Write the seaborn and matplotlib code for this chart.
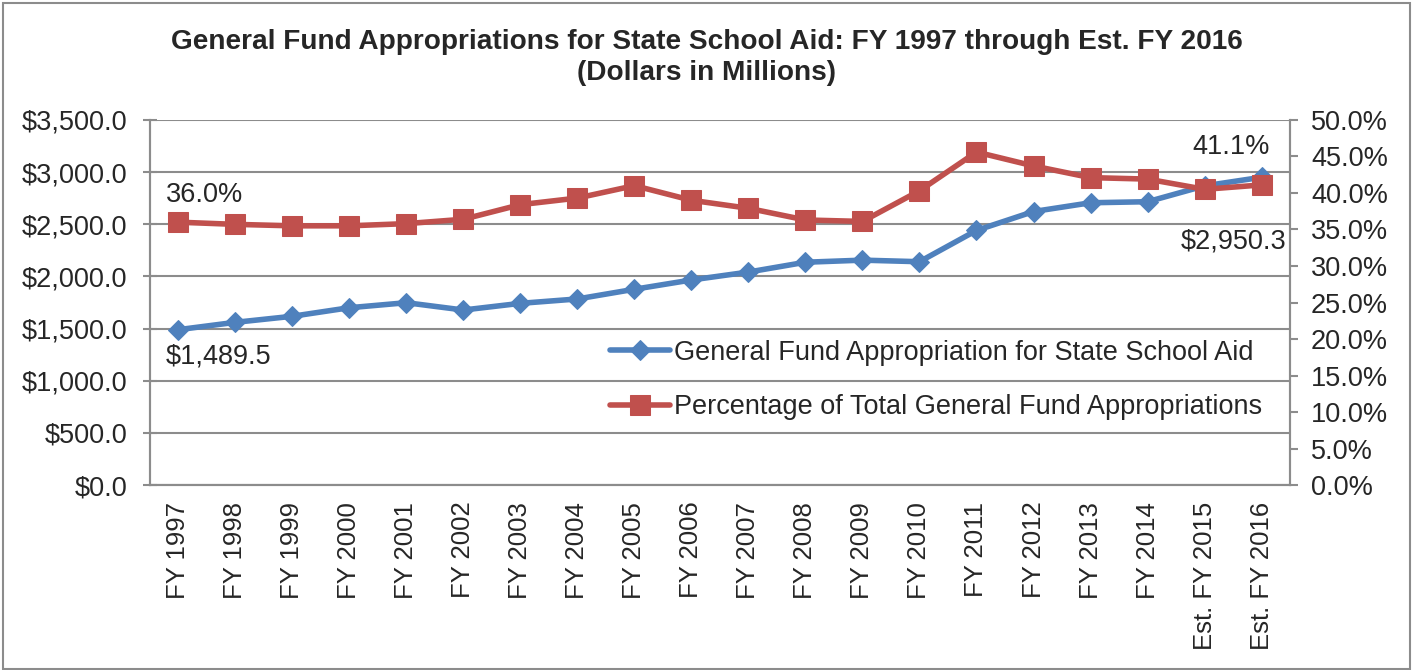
import matplotlib
matplotlib.use("Agg")
import matplotlib.pyplot as plt
from matplotlib.patches import Rectangle
from matplotlib.ticker import FuncFormatter, FixedLocator
import pandas as pd
import seaborn as sns

YEARS = ["FY 1997", "FY 1998", "FY 1999", "FY 2000", "FY 2001", "FY 2002", "FY 2003",
         "FY 2004", "FY 2005", "FY 2006", "FY 2007", "FY 2008", "FY 2009", "FY 2010",
         "FY 2011", "FY 2012", "FY 2013", "FY 2014", "Est. FY 2015", "Est. FY 2016"]
SCHOOL_AID = [1489.5, 1560, 1618, 1700, 1748, 1678, 1742, 1784, 1877, 1966, 2042,
              2136, 2156, 2141, 2441, 2622, 2706, 2716, 2868, 2950.3]
PCT_OF_TOTAL = [36.0, 35.7, 35.5, 35.5, 35.8, 36.4, 38.4, 39.3, 41.0, 39.0, 37.9,
                36.3, 36.1, 40.3, 45.6, 43.7, 42.1, 41.9, 40.5, 41.1]

BLUE = "#4F81BD"
RED = "#C0504D"
GRID = "#8C8C8C"
FS = 19.5

sns.set_style("white")
plt.rcParams["font.family"] = ["Liberation Sans", "DejaVu Sans"]

df = pd.DataFrame({"pos": range(len(YEARS)), "year": YEARS,
                   "aid": SCHOOL_AID, "pct": PCT_OF_TOTAL})

fig = plt.figure(figsize=(14.13, 6.70), dpi=100)
fig.patches.append(Rectangle((0.002, 0.002), 0.996, 0.993, transform=fig.transFigure,
                             fill=False, edgecolor="#8C8C8C", lw=1.5))
ax = fig.add_axes([0.106, 0.276, 0.807, 0.545])
ax2 = ax.twinx()

sns.lineplot(data=df, x="pos", y="aid", ax=ax, color=BLUE, lw=4, marker="D", markersize=10,
             markeredgecolor=BLUE, label="General Fund Appropriation for State School Aid",
             legend=False)
sns.lineplot(data=df, x="pos", y="pct", ax=ax2, color=RED, lw=4, marker="s", markersize=14,
             markeredgecolor=RED, label="Percentage of Total General Fund Appropriations",
             legend=False)

ax.set_xlim(-0.5, len(YEARS) - 0.5)
ax.set_ylim(0, 3500)
ax2.set_ylim(0, 50)
ax.set_yticks(range(0, 3501, 500))
ax2.set_yticks(range(0, 51, 5))
ax.yaxis.set_major_formatter(FuncFormatter(lambda v, p: f"${v:,.1f}"))
ax2.yaxis.set_major_formatter(FuncFormatter(lambda v, p: f"{v:.1f}%"))
ax.set_xticks(df["pos"])
ax.set_xticklabels(YEARS, rotation=90, fontsize=18.5)
ax.xaxis.set_minor_locator(FixedLocator([i - 0.5 for i in range(len(YEARS) + 1)]))
ax.tick_params(axis="x", which="major", length=0, pad=12)
ax.tick_params(axis="x", which="minor", length=8, width=1.5, color=GRID, direction="out")
ax.tick_params(axis="y", labelsize=FS, length=10, width=1.5, color=GRID, direction="inout", pad=11)
ax2.tick_params(axis="y", labelsize=FS, length=6, width=1.5, color=GRID, direction="out", pad=9)
ax.set_xlabel("")
ax.set_ylabel("")
ax2.set_ylabel("")
ax.grid(axis="y", color=GRID, lw=1.5)
ax.set_axisbelow(True)
for a in (ax, ax2):
    a.spines["top"].set_visible(False)
    for s in ("left", "right", "bottom"):
        a.spines[s].set_color(GRID)
        a.spines[s].set_linewidth(1.5)

ax2.annotate("36.0%", (0, PCT_OF_TOTAL[0]), xytext=(-9, 10), textcoords="offset points",
             fontsize=FS, ha="left", va="bottom")
ax.annotate("$1,489.5", (0, SCHOOL_AID[0]), xytext=(-9, -10), textcoords="offset points",
            fontsize=FS, ha="left", va="top")
ax2.annotate("41.1%", (19, PCT_OF_TOTAL[-1]), xytext=(6, 18), textcoords="offset points",
             fontsize=FS, ha="right", va="bottom")
ax.annotate("$2,950.3", (19, SCHOOL_AID[-1]), xytext=(18, -37), textcoords="offset points",
            fontsize=FS, ha="right", va="top")

h1, l1 = ax.get_legend_handles_labels()
h2, l2 = ax2.get_legend_handles_labels()
ax2.legend(h1 + h2, l1 + l2, loc="center left", bbox_to_anchor=(0.404, 0.288), frameon=False,
           fontsize=FS, handlelength=2.2, handletextpad=0.15, labelspacing=1.05, borderaxespad=0,
           borderpad=0)

fig.text(0.5, 0.938, "General Fund Appropriations for State School Aid: FY 1997 through Est. FY 2016",
         ha="center", va="center", fontsize=20.2, fontweight="bold")
fig.text(0.5, 0.891, "(Dollars in Millions)", ha="center", va="center", fontsize=20.2,
         fontweight="bold")

fig.savefig("out.png", dpi=100)
